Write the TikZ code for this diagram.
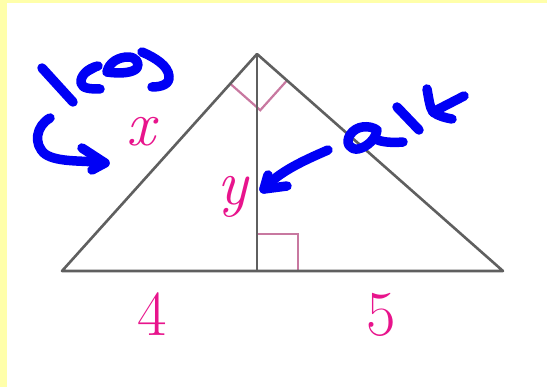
\documentclass[tikz,border=0pt]{standalone}
\usetikzlibrary{calc}
\definecolor{bgyellow}{RGB}{255,255,170}
\definecolor{lbl}{RGB}{232,20,140}
\definecolor{mark}{RGB}{200,120,160}
\definecolor{edge}{RGB}{95,95,95}
\definecolor{ink}{RGB}{0,0,245}
\begin{document}
\begin{tikzpicture}[x=1pt,y=-1pt,
  edgeline/.style={draw=edge,line width=2.6pt,line join=round},
  markline/.style={draw=mark,line width=2.2pt},
  lab/.style={text=lbl,inner sep=0pt,font=\fontsize{64}{64}\selectfont},
  pen/.style={draw=ink,line width=9.5pt,line cap=round,line join=round}]
\useasboundingbox (0,0) rectangle (547,387);
\fill[bgyellow] (0,0) rectangle (547,387);
\fill[white] (7,3) rectangle (547,387);
% triangle
\coordinate (A) at (62,271);
\coordinate (B) at (503,271);
\coordinate (C) at (257,54);
\coordinate (H) at (257,271);
% right angle marks
\draw[markline] ($(C)!40pt!(A)$) -- ($ (C)!40pt!(A) + (C)!40pt!(B) - (C) $) -- ($(C)!40pt!(B)$);
\draw[markline] (H) ++(0,-37) -- ++(41,0) -- ++(0,37);
\draw[edgeline] (A) -- (C) -- (B) -- cycle;
\draw[edgeline,line width=2.4pt] (C) -- (H);
% labels
\node[lab,anchor=base] (lx) at (143,146) {\textit{x}};
\node[lab,anchor=base] (ly) at (234,205) {\textit{y}};
\node[lab,anchor=base] (l4) at (152,336) {4};
\node[lab,anchor=base] (l5) at (381,336) {5};
% handwriting "leg"
\draw[pen] (42,68) -- (73,102);
\draw[pen] (98,66) .. controls (88,68) and (80,76) .. (81,83) .. controls (82,89) and (92,89) .. (100,89);
\draw[pen] (86,72) -- (95,67);
\draw[pen] (107,72) .. controls (109,62) and (119,57) .. (128,57) .. controls (136,57) and (140,63) .. (137,68) .. controls (133,73) and (120,74) .. (107,72);
\draw[pen] (142,52) .. controls (156,58) and (168,66) .. (169,76) .. controls (170,84) and (162,87) .. (152,87);
% curved arrow
\draw[pen] (50,118) .. controls (36,126) and (33,144) .. (45,154) .. controls (58,163) and (85,160) .. (105,163);
\draw[pen] (82,148) -- (105,163) -- (92,170);
% handwriting "alt"
\draw[pen] (377,130) .. controls (370,125) and (356,125) .. (350,135) .. controls (345,143) and (350,150) .. (358,149) .. controls (368,147) and (376,138) .. (377,130);
\draw[pen] (376,139) .. controls (380,142) and (392,143) .. (403,142);
\draw[pen] (397,107) -- (419,130);
\draw[pen] (427,89) .. controls (429,100) and (430,108) .. (433,112) .. controls (438,116) and (446,118) .. (452,119);
\draw[pen] (433,112) -- (464,96);
% alt arrow
\draw[pen] (328,150) .. controls (305,160) and (278,172) .. (264,189);
\draw[pen] (268,175) -- (264,189) -- (287,186);
\end{tikzpicture}
\end{document}
